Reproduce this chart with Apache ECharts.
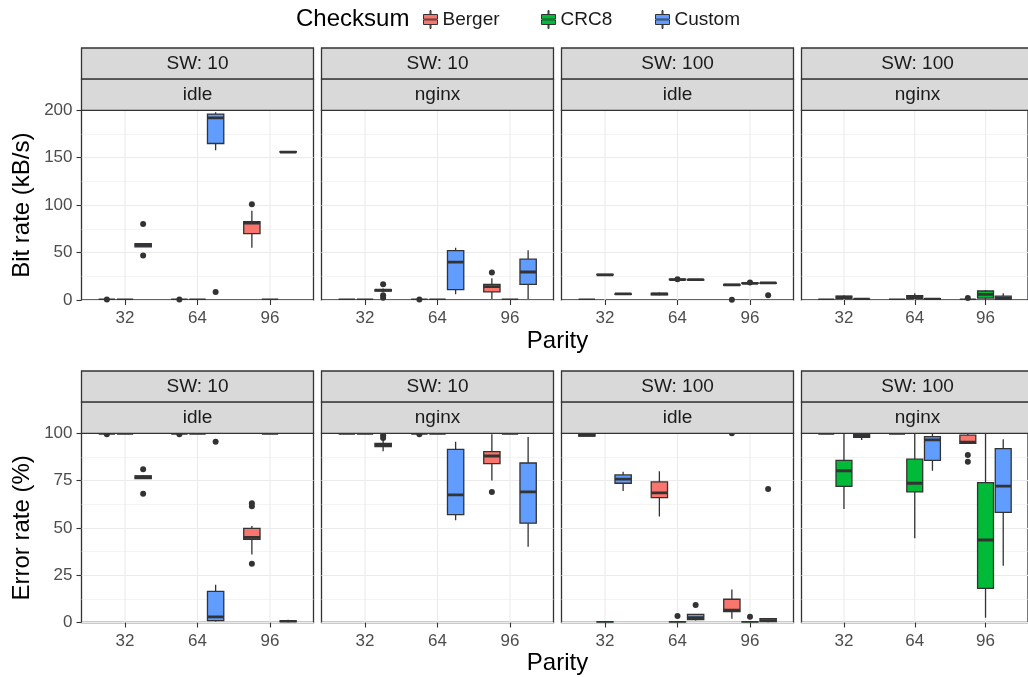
<!DOCTYPE html>
<html><head><meta charset="utf-8">
<script src="https://cdn.jsdelivr.net/npm/echarts@6/dist/echarts.min.js"></script>
<style>html,body{margin:0;padding:0;background:#fff}#c{width:1028px;height:677px}</style>
</head><body><div id="c"></div>
<script>
// ---------- categories / labels ----------
const parityLabels = ['32', '64', '96'];
const checksums = ['Berger', 'CRC8', 'Custom'];
const facetSW = ['SW: 10', 'SW: 10', 'SW: 100', 'SW: 100'];
const facetLoad = ['idle', 'nginx', 'idle', 'nginx'];
const rowTitles = ['Bit rate (kB/s)', 'Error rate (%)'];
const xTitle = 'Parity';
const legendTitle = 'Checksum';

// ---------- box statistics: [lower whisker, Q1, median, Q3, upper whisker] for parity 32 / 64 / 96 ----------
// Bit rate
const bit_sw10_idle_berger = [[0,0,0,0,0],[0,0,0,0,0],[55,70,81,82.6,94]];
const bit_sw10_idle_crc8   = [[0,0,0,0,0],[0,0,0,0,0],[0,0,0,0,0]];
const bit_sw10_idle_custom = [[56,56,57.5,59.5,59.5],[158,165,192,196,198],[156,156,156,156.5,156.5]];
const bit_sw10_idle_outliers = [[0,0,0.5],[1,0,0.5],[2,0,101],[0,2,80],[0,2,47],[1,2,8.5]]; // [parity idx, checksum idx, value]

const bit_sw10_nginx_berger = [[0,0,0,0,0],[0,0,0,0,0],[1,8.5,14,16.5,23]];
const bit_sw10_nginx_crc8   = [[0,0,0,0,0],[0,0,0,0,0],[0,0,0,0,0]];
const bit_sw10_nginx_custom = [[8.5,9.5,10.5,11,12],[6,11,40,52,55],[1,16.5,29.5,43,52.5]];
const bit_sw10_nginx_outliers = [[1,0,0.6],[2,0,29],[0,2,16.5],[0,2,5],[0,2,2.5]];

const bit_sw100_idle_berger = [[0,0,0,0,0],[5,5.5,6.5,7,8],[15.5,15.5,16,16.5,16.5]];
const bit_sw100_idle_crc8   = [[26.5,26.5,26.5,27,27],[21,21.5,21.5,22,22],[17,17.5,17.5,18,18]];
const bit_sw100_idle_custom = [[6,6,6.5,6.5,7],[21,21,21.5,21.5,22],[17.5,17.5,18,18,18.5]];
const bit_sw100_idle_outliers = [[2,0,0.3],[1,1,22],[2,1,18.5],[2,2,5]];

const bit_sw100_nginx_berger = [[0,0,0,0,0],[0,0,0,0,0],[0,0,0,0,0]];
const bit_sw100_nginx_crc8   = [[1,1.5,3,4,5],[1,1.5,3,4.5,7],[0,2,6,9.5,10.5]];
const bit_sw100_nginx_custom = [[0.5,0.5,0.8,1,1],[0.5,0.8,1,1.5,1.5],[0,0.5,2,4,7]];
const bit_sw100_nginx_outliers = [[2,0,2]];

// Error rate
const err_sw10_idle_berger = [[100,100,100,100,100],[100,100,100,100,100],[36,44,45,49.8,51]];
const err_sw10_idle_crc8   = [[100,100,100,100,100],[100,100,100,100,100],[100,100,100,100,100]];
const err_sw10_idle_custom = [[76,76,77,77.5,78],[0.5,1,3,16.5,20],[0,0.3,0.6,0.9,1.5]];
const err_sw10_idle_outliers = [[0,0,99.5],[1,0,99.5],[2,0,63],[2,0,61.5],[2,0,31],[0,2,81],[0,2,68],[1,2,95.5]];

const err_sw10_nginx_berger = [[100,100,100,100,100],[100,100,100,100,100],[75,84,88,90.3,99.5]];
const err_sw10_nginx_crc8   = [[100,100,100,100,100],[100,100,100,100,100],[100,100,100,100,100]];
const err_sw10_nginx_custom = [[90.5,93,94,94.7,98],[54,57,67.5,91.5,95.5],[40,52.5,69,84.3,98]];
const err_sw10_nginx_outliers = [[1,0,99.5],[2,0,69],[0,2,99],[0,2,97.5]];

const err_sw100_idle_berger = [[98.5,98.5,99,99.5,99.5],[56,66,68.5,74.3,80],[2,5.7,6.5,12.3,17.5]];
const err_sw100_idle_crc8   = [[0,0,0,0.3,0.5],[0,0,0,0.3,0.5],[0,0,0,0.3,0.5]];
const err_sw100_idle_custom = [[69.5,73.6,75.8,78,79.7],[1,1.5,2.6,4.3,4.5],[0,0.3,1,2,2]];
const err_sw100_idle_outliers = [[2,0,100],[1,1,3.5],[2,1,3],[1,2,9.2],[2,2,70.5]];

const err_sw100_nginx_berger = [[100,100,100,100,100],[100,100,100,100,100],[94.7,94.7,95.3,99,100]];
const err_sw100_nginx_crc8   = [[60,72,80.2,85.7,100],[44.5,69,73.6,86.3,100],[2.5,18,43.6,73.9,100]];
const err_sw100_nginx_custom = [[96.5,97.9,98.8,99.6,100],[80.2,85.7,96.5,98.2,100],[30,58.2,72.1,91.9,96.8]];
const err_sw100_nginx_outliers = [[2,0,88.5],[2,0,85]];

// y scale per row
const rowMax = [200, 100];
const rowInterval = [50, 25];

// ---------- assemble ----------
const facets = [
  [bit_sw10_idle_berger, bit_sw10_idle_crc8, bit_sw10_idle_custom, bit_sw10_idle_outliers],
  [bit_sw10_nginx_berger, bit_sw10_nginx_crc8, bit_sw10_nginx_custom, bit_sw10_nginx_outliers],
  [bit_sw100_idle_berger, bit_sw100_idle_crc8, bit_sw100_idle_custom, bit_sw100_idle_outliers],
  [bit_sw100_nginx_berger, bit_sw100_nginx_crc8, bit_sw100_nginx_custom, bit_sw100_nginx_outliers],
  [err_sw10_idle_berger, err_sw10_idle_crc8, err_sw10_idle_custom, err_sw10_idle_outliers],
  [err_sw10_nginx_berger, err_sw10_nginx_crc8, err_sw10_nginx_custom, err_sw10_nginx_outliers],
  [err_sw100_idle_berger, err_sw100_idle_crc8, err_sw100_idle_custom, err_sw100_idle_outliers],
  [err_sw100_nginx_berger, err_sw100_nginx_crc8, err_sw100_nginx_custom, err_sw100_nginx_outliers]
];

const FONT = 'Liberation Sans, Arial, Helvetica, sans-serif';
const colors = ['#F8766D', '#00BA38', '#619CFF'];
const dodge = [-0.25, 0, 0.25];
const halfW = 0.1125;
const L0 = 81.5, PW = 232, STEP = 240;
const rowTop = [110.3, 433.3], PH = [189.7, 189.2];
const STRIP_H = 31.15;
const DARK = '#333333';

function renderBox(params, api) {
  const x = api.value(0), lo = api.value(1), q1 = api.value(2), md = api.value(3), q3 = api.value(4), hi = api.value(5);
  const a = api.coord([x - halfW, q3]), b = api.coord([x + halfW, q1]);
  const cHi = api.coord([x, hi]), cLo = api.coord([x, lo]);
  const mL = api.coord([x - halfW, md]), mR = api.coord([x + halfW, md]);
  const ls = { stroke: DARK, lineWidth: 1.3 };
  return { type: 'group', children: [
    { type: 'line', shape: { x1: cHi[0], y1: cHi[1], x2: cHi[0], y2: a[1] }, style: ls },
    { type: 'line', shape: { x1: cLo[0], y1: b[1], x2: cLo[0], y2: cLo[1] }, style: ls },
    { type: 'rect', shape: { x: a[0], y: a[1], width: b[0] - a[0], height: b[1] - a[1] },
      style: { fill: api.visual('color'), stroke: DARK, lineWidth: 1.3 } },
    { type: 'line', shape: { x1: mL[0], y1: mL[1], x2: mR[0], y2: mR[1] }, style: { stroke: DARK, lineWidth: 2.8 } }
  ]};
}
function renderVGrid(params, api) {
  const x = api.value(0);
  const cs = params.coordSys;
  const p = api.coord([x, 0]);
  return { type: 'line', shape: { x1: p[0], y1: cs.y, x2: p[0], y2: cs.y + cs.height },
    style: { stroke: '#ebebeb', lineWidth: 1.1 } };
}

const grid = [], xAxis = [], yAxis = [], series = [], graphic = [];
facets.forEach((f, i) => {
  const row = Math.floor(i / 4), col = i % 4;
  const left = L0 + STEP * col;
  grid.push({ left: left, top: rowTop[row], width: PW, height: PH[row], show: true,
    backgroundColor: '#ffffff', borderColor: DARK, borderWidth: 1.3, containLabel: false });
  xAxis.push({ type: 'value', gridIndex: i, min: 0.4, max: 3.6,
    axisLine: { show: false }, splitLine: { show: false },
    axisTick: { show: true, customValues: [1, 2, 3], length: 5, lineStyle: { color: DARK, width: 1.1 } },
    axisLabel: { show: true, customValues: [1, 2, 3], margin: 10, fontSize: 17, color: '#4d4d4d', fontFamily: FONT,
      formatter: v => parityLabels[Math.round(v) - 1] || '' } });
  yAxis.push({ type: 'value', gridIndex: i, min: 0, max: rowMax[row], interval: rowInterval[row],
    axisLine: { show: false },
    axisTick: { show: col === 0, length: 5, lineStyle: { color: DARK, width: 1.1 } },
    axisLabel: { show: col === 0, margin: 9, fontSize: 17, color: '#4d4d4d', fontFamily: FONT },
    splitLine: { show: true, lineStyle: { color: '#ebebeb', width: 1.1 } },
    minorTick: { show: false, splitNumber: 2 },
    minorSplitLine: { show: true, lineStyle: { color: '#ebebeb', width: 0.55 } } });
  series.push({ type: 'custom', xAxisIndex: i, yAxisIndex: i, silent: true, z: 1, clip: true,
    renderItem: renderVGrid, data: [[1], [2], [3]], encode: { x: 0 } });
  for (let c = 0; c < 3; c++) {
    const stats = f[c];
    series.push({ type: 'custom', name: checksums[c], xAxisIndex: i, yAxisIndex: i, z: 3, clip: true,
      itemStyle: { color: colors[c] }, renderItem: renderBox,
      encode: { x: 0, y: [1, 2, 3, 4, 5] },
      data: stats.map((s, p) => [p + 1 + dodge[c]].concat(s)) });
  }
  series.push({ type: 'scatter', xAxisIndex: i, yAxisIndex: i, z: 4, clip: true, silent: true,
    symbolSize: 6, itemStyle: { color: DARK, opacity: 1 },
    data: f[3].map(o => [o[0] + 1 + dodge[o[1]], o[2]]) });

  // strips
  const sTop = rowTop[row] - 2 * STRIP_H;
  [facetSW[col], facetLoad[col]].forEach((txt, k) => {
    graphic.push({ type: 'rect', z: 100, shape: { x: left, y: sTop + k * STRIP_H, width: PW, height: STRIP_H },
      style: { fill: '#d9d9d9', stroke: DARK, lineWidth: 1.3 } });
    graphic.push({ type: 'text', z: 101, x: left + PW / 2, y: sTop + k * STRIP_H + STRIP_H / 2 + 0.5,
      style: { text: txt, fill: '#1a1a1a', font: '19px ' + FONT, textAlign: 'center', textVerticalAlign: 'middle' } });
  });
});

// axis titles
rowTitles.forEach((t, r) => {
  graphic.push({ type: 'text', z: 101, x: 22, y: rowTop[r] + PH[r] / 2, rotation: Math.PI / 2,
    style: { text: t, fill: '#000', font: '24px ' + FONT, textAlign: 'center', textVerticalAlign: 'middle' } });
  graphic.push({ type: 'text', z: 101, x: L0 + (3 * STEP + PW) / 2, y: rowTop[r] + PH[r] + 41,
    style: { text: xTitle, fill: '#000', font: '24px ' + FONT, textAlign: 'center', textVerticalAlign: 'middle' } });
});
graphic.push({ type: 'text', z: 101, x: 296, y: 19,
  style: { text: legendTitle, fill: '#000', font: '24px ' + FONT, textAlign: 'left', textVerticalAlign: 'middle' } });

const keyIcon = 'path://M6.5,0h1v4h-1z M0,4h14v4.6h-14z M0,9.4h14v4.6h-14z M6.5,14h1v4h-1z';
const legendLefts = [423, 541, 655];
const legend = checksums.map((n, i) => ({
  data: [n], left: legendLefts[i], top: 10, padding: 0, itemGap: 0, itemWidth: 14, itemHeight: 18, icon: keyIcon,
  itemStyle: { borderColor: DARK, borderWidth: 1 }, selectedMode: false,
  textStyle: { fontSize: 19, color: '#1a1a1a', fontFamily: FONT }
}));

const chart = echarts.init(document.getElementById('c'), null, { renderer: 'canvas' });
chart.setOption({ animation: false, backgroundColor: '#ffffff', grid, xAxis, yAxis, series, graphic, legend });
</script></body></html>
